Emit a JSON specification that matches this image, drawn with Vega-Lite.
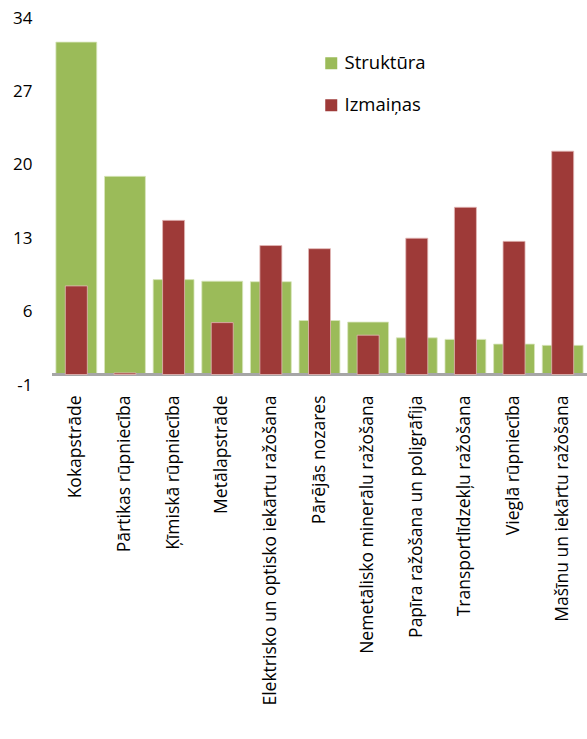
{
  "$schema": "https://vega.github.io/schema/vega-lite/v6.json",
  "autosize": "none",
  "width": 535,
  "height": 367,
  "padding": {"left": 52, "top": 18, "right": 0, "bottom": 354},
  "background": "white",
  "config": {"view": {"stroke": null}, "font": "Open Sans"},
  "data": {"values": [
    {"nozare": "Kokapstrāde", "serija": "Struktūra", "v": 31.7},
    {"nozare": "Pārtikas rūpniecība", "serija": "Struktūra", "v": 18.9},
    {"nozare": "Ķīmiskā rūpniecība", "serija": "Struktūra", "v": 9.05},
    {"nozare": "Metālapstrāde", "serija": "Struktūra", "v": 8.9},
    {"nozare": "Elektrisko un optisko iekārtu ražošana", "serija": "Struktūra", "v": 8.85},
    {"nozare": "Pārējās nozares", "serija": "Struktūra", "v": 5.15},
    {"nozare": "Nemetālisko minerālu ražošana", "serija": "Struktūra", "v": 5.0},
    {"nozare": "Papīra ražošana un poligrāfija", "serija": "Struktūra", "v": 3.5},
    {"nozare": "Transportlīdzekļu ražošana", "serija": "Struktūra", "v": 3.35},
    {"nozare": "Vieglā rūpniecība", "serija": "Struktūra", "v": 2.9},
    {"nozare": "Mašīnu un iekārtu ražošana", "serija": "Struktūra", "v": 2.78},
    {"nozare": "Kokapstrāde", "serija": "Izmaiņas", "v": 8.45},
    {"nozare": "Pārtikas rūpniecība", "serija": "Izmaiņas", "v": 0.15},
    {"nozare": "Ķīmiskā rūpniecība", "serija": "Izmaiņas", "v": 14.7},
    {"nozare": "Metālapstrāde", "serija": "Izmaiņas", "v": 4.95},
    {"nozare": "Elektrisko un optisko iekārtu ražošana", "serija": "Izmaiņas", "v": 12.3},
    {"nozare": "Pārējās nozares", "serija": "Izmaiņas", "v": 12.0},
    {"nozare": "Nemetālisko minerālu ražošana", "serija": "Izmaiņas", "v": 3.75},
    {"nozare": "Papīra ražošana un poligrāfija", "serija": "Izmaiņas", "v": 13.0},
    {"nozare": "Transportlīdzekļu ražošana", "serija": "Izmaiņas", "v": 15.95},
    {"nozare": "Vieglā rūpniecība", "serija": "Izmaiņas", "v": 12.7},
    {"nozare": "Mašīnu un iekārtu ražošana", "serija": "Izmaiņas", "v": 21.3}
  ]},
  "encoding": {
    "x": {
      "field": "nozare", "type": "nominal", "sort": null,
      "scale": {"paddingInner": 0.16, "paddingOuter": 0.08},
      "axis": {"title": null, "domain": false, "ticks": false, "labelAngle": -90, "labelAlign": "right", "labelBaseline": "middle", "labelFontSize": 17.5, "labelColor": "#000000", "labelPadding": 10, "labelLimit": 400}
    },
    "y": {
      "field": "v", "type": "quantitative",
      "scale": {"domain": [-1, 34], "nice": false, "zero": false},
      "axis": {"title": null, "domain": false, "ticks": false, "grid": false, "values": [-1, 6, 13, 20, 27, 34], "labelExpr": "'' + datum.value", "labelFontSize": 17, "labelColor": "#000000", "labelPadding": 20}
    },
    "y2": {"datum": 0},
    "color": {
      "field": "serija", "type": "nominal",
      "scale": {"domain": ["Struktūra", "Izmaiņas"], "range": ["#9BBB59", "#9E3A38"]},
      "legend": {"title": null, "orient": "none", "legendX": 270, "legendY": 36, "symbolType": "square", "symbolSize": 144, "symbolStrokeWidth": 0, "labelFontSize": 18.5, "labelColor": "#000000", "rowPadding": 23, "labelOffset": 4}
    }
  },
  "layer": [
    {"transform": [{"filter": "datum.serija == 'Struktūra'"}], "mark": {"type": "bar", "stroke": "#d8e6bd", "strokeWidth": 0.8}},
    {"mark": {"type": "rule", "color": "#a6a6a6", "strokeWidth": 2}, "encoding": {"y": {"datum": 0}, "x": {"value": 0}, "x2": {"value": 535}, "y2": null, "color": {"value": "#a6a6a6"}}},
    {"transform": [{"filter": "datum.serija == 'Izmaiņas'"}], "mark": {"type": "bar", "size": 22, "stroke": "#e3b9b8", "strokeWidth": 0.8}}
  ]
}
